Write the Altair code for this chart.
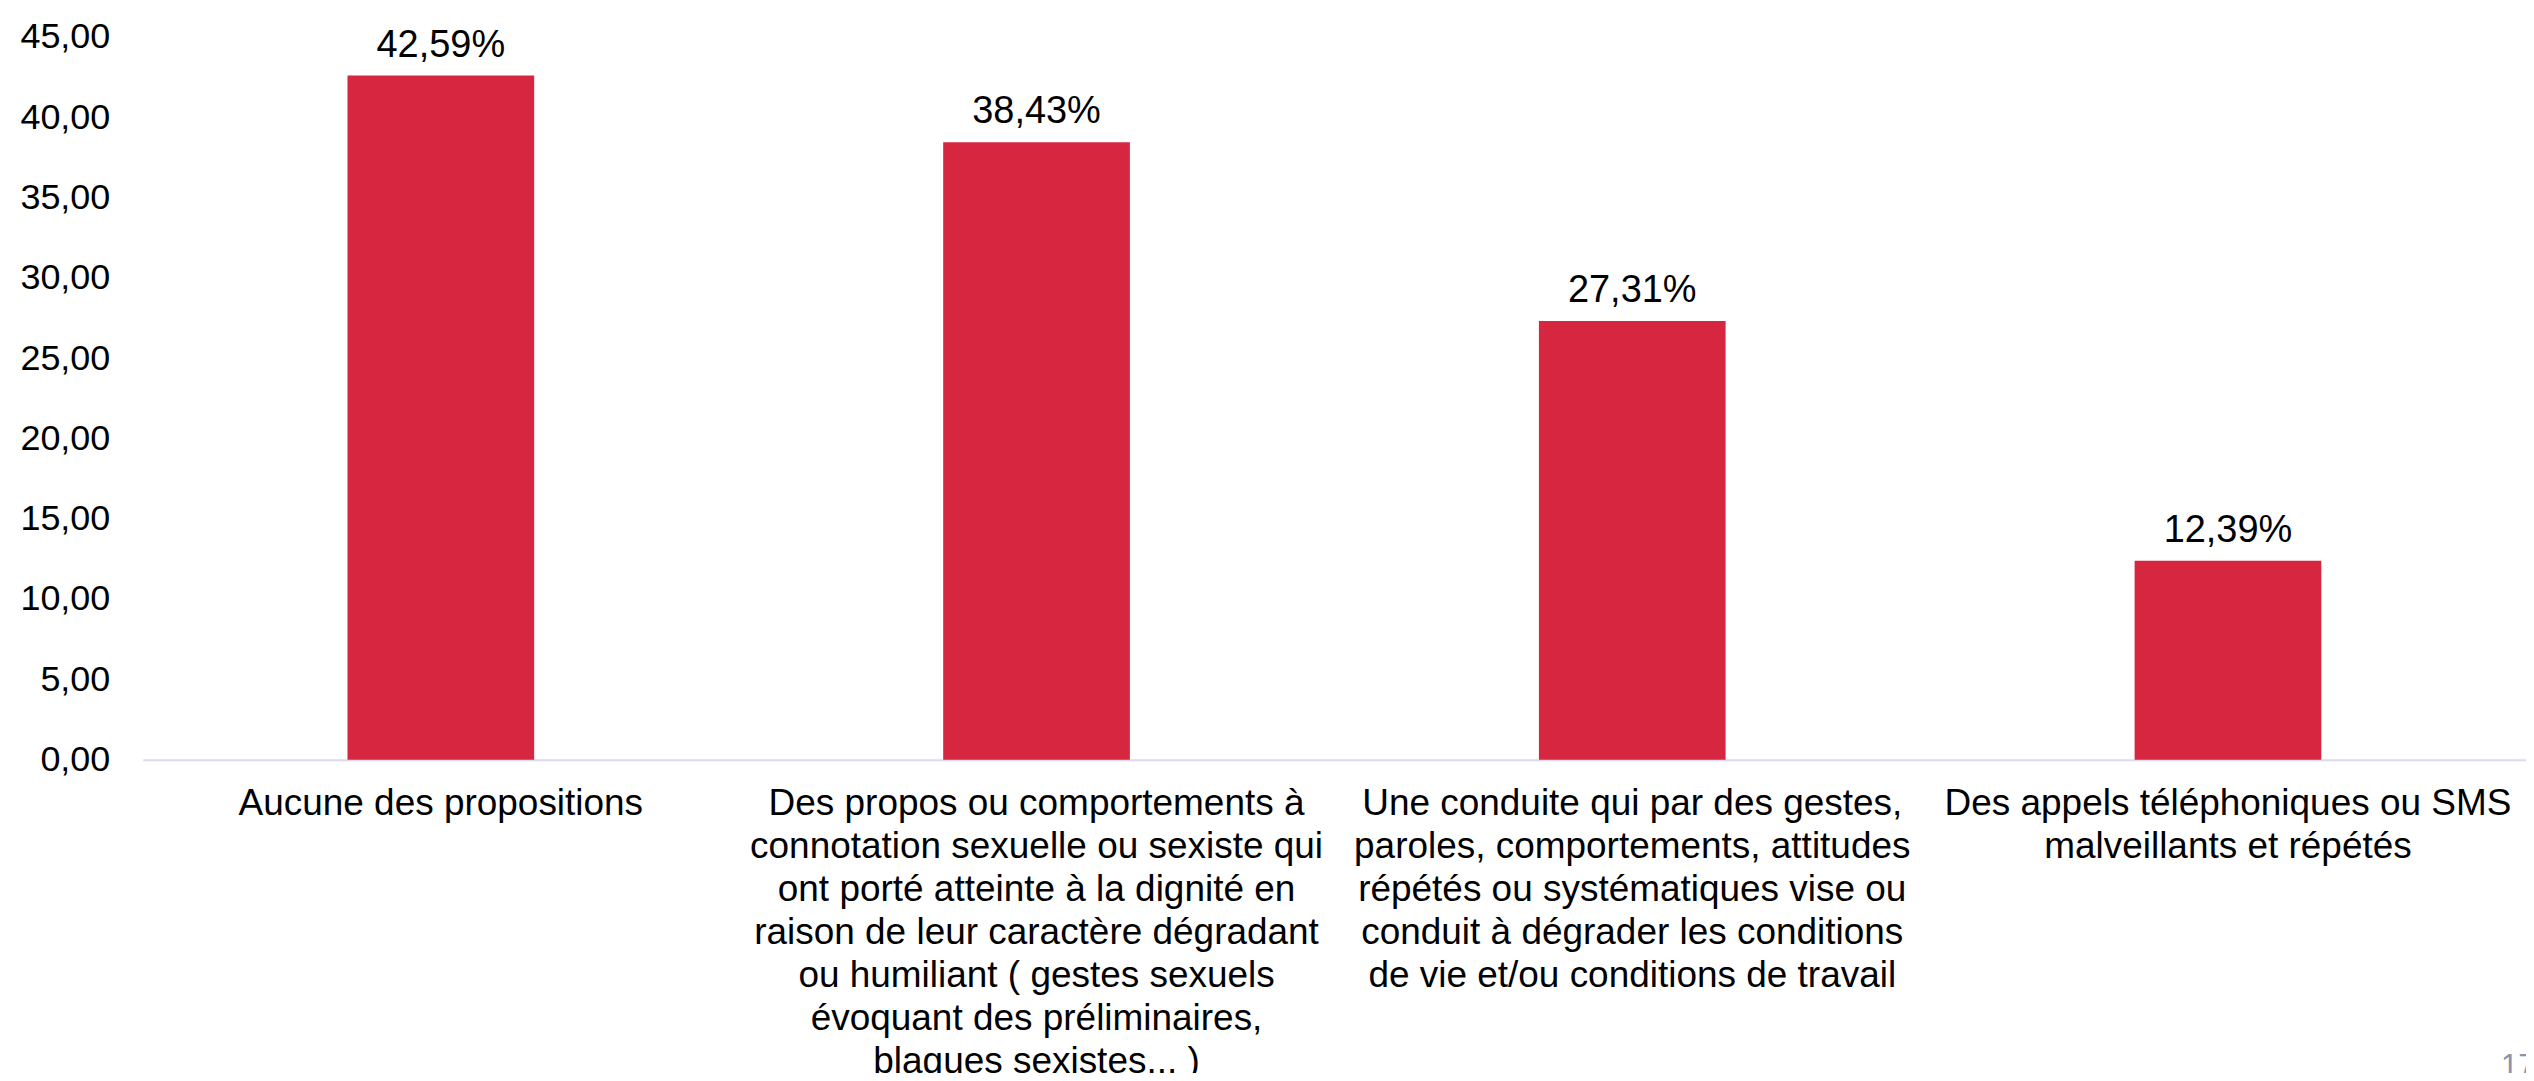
import altair as alt
import pandas as pd

categories = [
    "Aucune des propositions",
    "Des propos ou comportements à|connotation sexuelle ou sexiste qui|ont porté atteinte à la dignité en|raison de leur caractère dégradant|ou humiliant ( gestes sexuels|évoquant des préliminaires,|blagues sexistes... )",
    "Une conduite qui par des gestes,|paroles, comportements, attitudes|répétés ou systématiques vise ou|conduit à dégrader les conditions|de vie et/ou conditions de travail",
    "Des appels téléphoniques ou SMS|malveillants et répétés",
]
values = [42.59, 38.43, 27.31, 12.39]
y_ticks = [0, 5, 10, 15, 20, 25, 30, 35, 40, 45]
page_number = "17"

df = pd.DataFrame({"cat": categories, "value": values})

FONT = "Liberation Sans"
BAR = "#D62640"

x_enc = alt.X(
    "cat:N",
    sort=categories,
    title=None,
    scale=alt.Scale(paddingInner=0.6866, paddingOuter=0.3436),
    axis=alt.Axis(
        labelExpr="split(datum.label, '|')",
        labelAngle=0,
        labelFont=FONT,
        labelFontSize=37,
        labelLineHeight=43,
        labelColor="#000000",
        labelPadding=26,
        labelLimit=0,
        ticks=False,
        tickSize=0,
        domainColor="#D9DAEF",
        domainWidth=2,
        grid=False,
    ),
)

y_enc = alt.Y(
    "value:Q",
    title=None,
    scale=alt.Scale(domain=[0, 45], nice=False, zero=True),
    axis=alt.Axis(
        values=y_ticks,
        labelExpr="replace(format(datum.value, '.2f'), '.', ',')",
        labelFont=FONT,
        labelFontSize=36,
        labelColor="#000000",
        labelPadding=33,
        ticks=False,
        tickSize=0,
        domain=False,
        grid=False,
    ),
)

bars = alt.Chart(df).mark_bar(color=BAR).encode(x=x_enc, y=y_enc)

labels = (
    alt.Chart(df)
    .transform_calculate(lbl="replace(format(datum.value, '.2f'), '.', ',') + '%'")
    .mark_text(font=FONT, fontSize=38, color="#000000", baseline="alphabetic", dy=-19)
    .encode(x=alt.X("cat:N", sort=categories), y="value:Q", text="lbl:N")
)

chart = (
    alt.layer(bars, labels)
    .properties(
        width=2387,
        height=724,
        background="#FFFFFF",
        autosize=alt.AutoSizeParams(type="none"),
        padding={"left": 135, "top": 28, "right": 0, "bottom": 313},
        title=alt.TitleParams(
            page_number,
            orient="top",
            anchor="end",
            frame="group",
            align="left",
            baseline="alphabetic",
            font=FONT,
            fontSize=31,
            fontWeight="normal",
            color="#8E93AB",
            dx=-25,
            dy=1094,
        ),
    )
    .configure_view(strokeWidth=0, stroke="transparent")
)

chart.save("out.html", embed_options={"renderer": "svg", "actions": False})
